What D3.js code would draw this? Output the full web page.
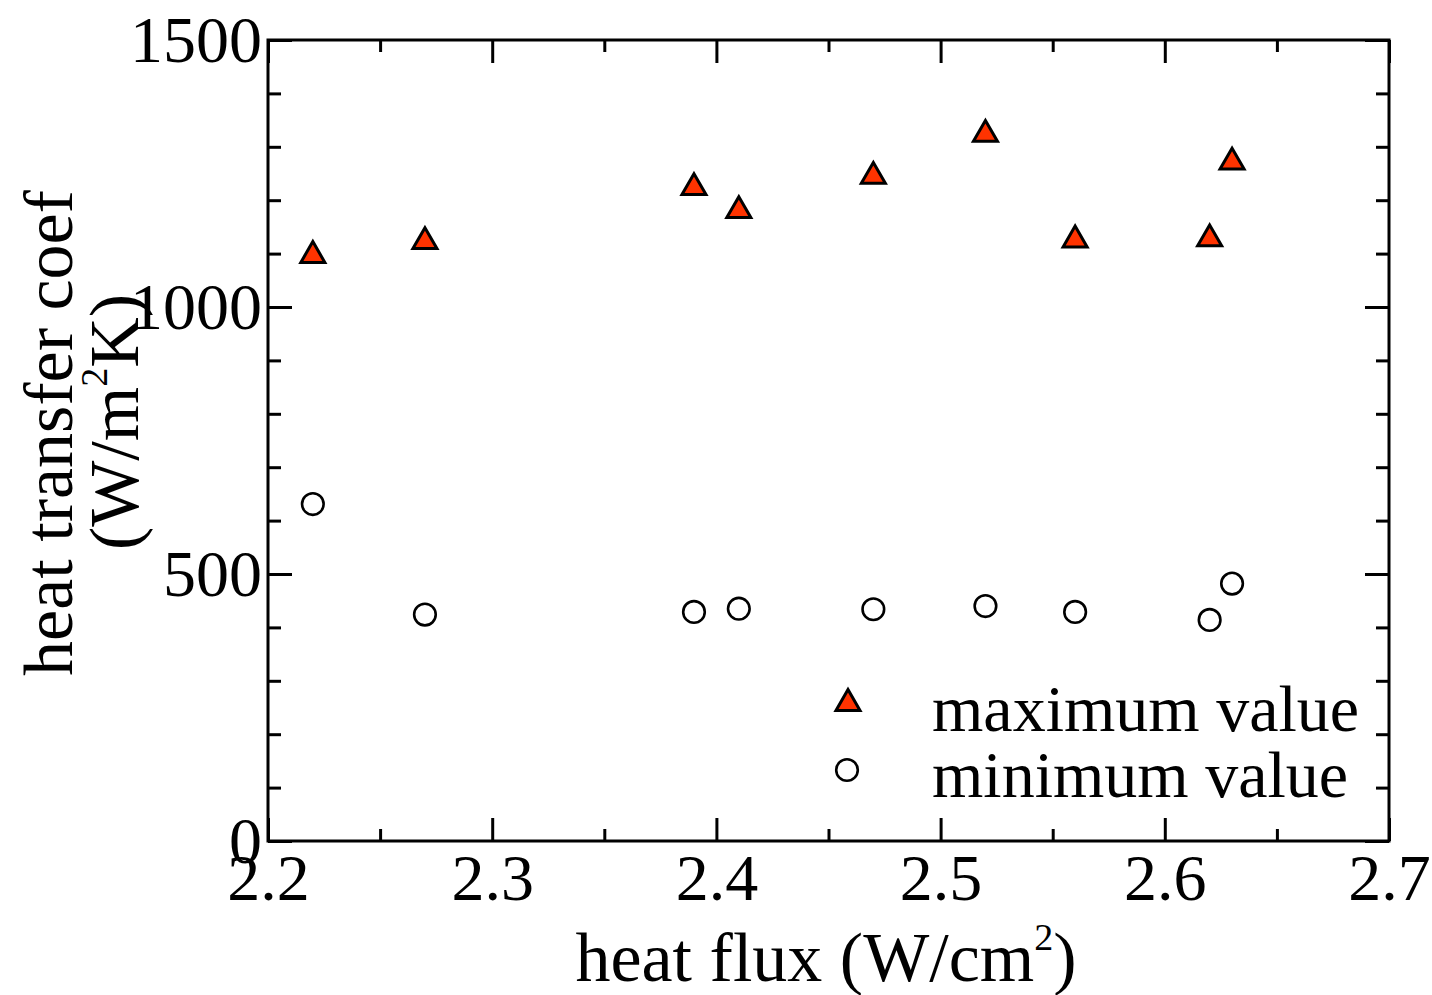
<!DOCTYPE html>
<html>
<head>
<meta charset="utf-8">
<script src="https://cdn.jsdelivr.net/npm/d3@7/dist/d3.min.js"></script>
<style>
  html, body { margin: 0; padding: 0; background: #fff; }
  svg { display: block; }
  text { font-family: "Liberation Serif", "Times New Roman", serif; fill: #000; }
</style>
</head>
<body>
<svg id="chart" width="1432" height="995"></svg>
<script>
// ---- data ----
const heatFlux = [2.22, 2.27, 2.39, 2.41, 2.47, 2.52, 2.56, 2.62, 2.63];
const maxValue = [1103, 1129, 1230, 1187, 1251, 1330, 1132, 1134, 1278];
const minValue = [631, 424, 429, 435, 434, 440, 429, 414, 482];
const xTicks = [2.2, 2.3, 2.4, 2.5, 2.6, 2.7];
const xMinorTicks = [2.25, 2.35, 2.45, 2.55, 2.65];
const yTicks = [0, 500, 1000, 1500];
const yMinorTicks = [100, 200, 300, 400, 600, 700, 800, 900, 1100, 1200, 1300, 1400];
const seriesNames = ["maximum value", "minimum value"];

// ---- layout ----
const L = 268, R = 1389, T = 40, B = 841;
const svg = d3.select("#chart");
const x = d3.scaleLinear().domain([2.2, 2.7]).range([L, R]);
const y = d3.scaleLinear().domain([0, 1500]).range([B, T]);
const tickFont = 66;

function styleAxis(g) {
  g.select(".domain").remove();
  g.selectAll(".tick line").attr("stroke", "#000").attr("stroke-width", 3);
  g.selectAll(".tick text").attr("font-size", tickFont)
    .attr("font-family", "Liberation Serif, Times New Roman, serif").attr("fill", "#000");
}

// bottom axis
svg.append("g").attr("transform", `translate(0,${B})`)
  .call(d3.axisBottom(x).tickValues(xTicks).tickSize(-23).tickPadding(12).tickFormat(d3.format(".1f")))
  .call(styleAxis);
svg.append("g").attr("transform", `translate(0,${B})`)
  .call(d3.axisBottom(x).tickValues(xMinorTicks).tickSize(-12).tickFormat(""))
  .call(styleAxis);
// top axis
svg.append("g").attr("transform", `translate(0,${T})`)
  .call(d3.axisTop(x).tickValues(xTicks).tickSize(-23).tickFormat(""))
  .call(styleAxis);
svg.append("g").attr("transform", `translate(0,${T})`)
  .call(d3.axisTop(x).tickValues(xMinorTicks).tickSize(-12).tickFormat(""))
  .call(styleAxis);
// left axis
svg.append("g").attr("transform", `translate(${L},0)`)
  .call(d3.axisLeft(y).tickValues(yTicks).tickSize(-24).tickPadding(6).tickFormat(d3.format("d")))
  .call(styleAxis);
svg.append("g").attr("transform", `translate(${L},0)`)
  .call(d3.axisLeft(y).tickValues(yMinorTicks).tickSize(-13).tickFormat(""))
  .call(styleAxis);
// right axis
svg.append("g").attr("transform", `translate(${R},0)`)
  .call(d3.axisRight(y).tickValues(yTicks).tickSize(-24).tickFormat(""))
  .call(styleAxis);
svg.append("g").attr("transform", `translate(${R},0)`)
  .call(d3.axisRight(y).tickValues(yMinorTicks).tickSize(-13).tickFormat(""))
  .call(styleAxis);

// frame
svg.append("rect").attr("x", L).attr("y", T).attr("width", R - L).attr("height", B - T)
  .attr("fill", "none").attr("stroke", "#000").attr("stroke-width", 3);

// triangle centered on bbox middle
const triType = {
  draw(ctx, size) {
    const s = Math.sqrt(size * 4 / Math.sqrt(3));
    const h = s * Math.sqrt(3) / 2;
    ctx.moveTo(0, -h / 2);
    ctx.lineTo(s / 2, h / 2);
    ctx.lineTo(-s / 2, h / 2);
    ctx.closePath();
  }
};
const triPath = d3.symbol().type(triType).size(250);
const triColor = "#ff3300";

svg.append("g").selectAll("path").data(heatFlux).join("path")
  .attr("d", triPath)
  .attr("transform", (d, i) => `translate(${x(d)},${y(maxValue[i])})`)
  .attr("fill", triColor).attr("stroke", "#000").attr("stroke-width", 3)
  .attr("stroke-linejoin", "miter");

svg.append("g").selectAll("circle").data(heatFlux).join("circle")
  .attr("cx", d => x(d)).attr("cy", (d, i) => y(minValue[i])).attr("r", 10.8)
  .attr("fill", "#fff").attr("stroke", "#000").attr("stroke-width", 2.6);

// legend
const leg = svg.append("g");
leg.append("path").attr("d", triPath).attr("transform", "translate(848,700)")
  .attr("fill", triColor).attr("stroke", "#000").attr("stroke-width", 3);
leg.append("circle").attr("cx", 847).attr("cy", 770).attr("r", 10.8)
  .attr("fill", "#fff").attr("stroke", "#000").attr("stroke-width", 2.6);
leg.append("text").attr("x", 932).attr("y", 731).attr("font-size", 66).text(seriesNames[0]);
leg.append("text").attr("x", 932).attr("y", 797).attr("font-size", 66).text(seriesNames[1]);

// x title
const xt = svg.append("text").attr("x", (580 + 1072) / 2).attr("y", 981)
  .attr("text-anchor", "middle").attr("font-size", 70);
xt.append("tspan").text("heat flux (W/cm");
xt.append("tspan").attr("font-size", 38).attr("dy", -31).text("2");
xt.append("tspan").attr("dy", 31).text(")");

// y title
const yt1 = svg.append("text").attr("transform", "translate(72,433) rotate(-90)")
  .attr("text-anchor", "middle").attr("font-size", 70).text("heat transfer coef");
const yt2 = svg.append("text").attr("transform", "translate(138,422) rotate(-90)")
  .attr("text-anchor", "middle").attr("font-size", 70);
yt2.append("tspan").text("(W/m");
yt2.append("tspan").attr("font-size", 38).attr("dy", -31).text("2");
yt2.append("tspan").attr("dy", 31).text("K)");
</script>
</body>
</html>
